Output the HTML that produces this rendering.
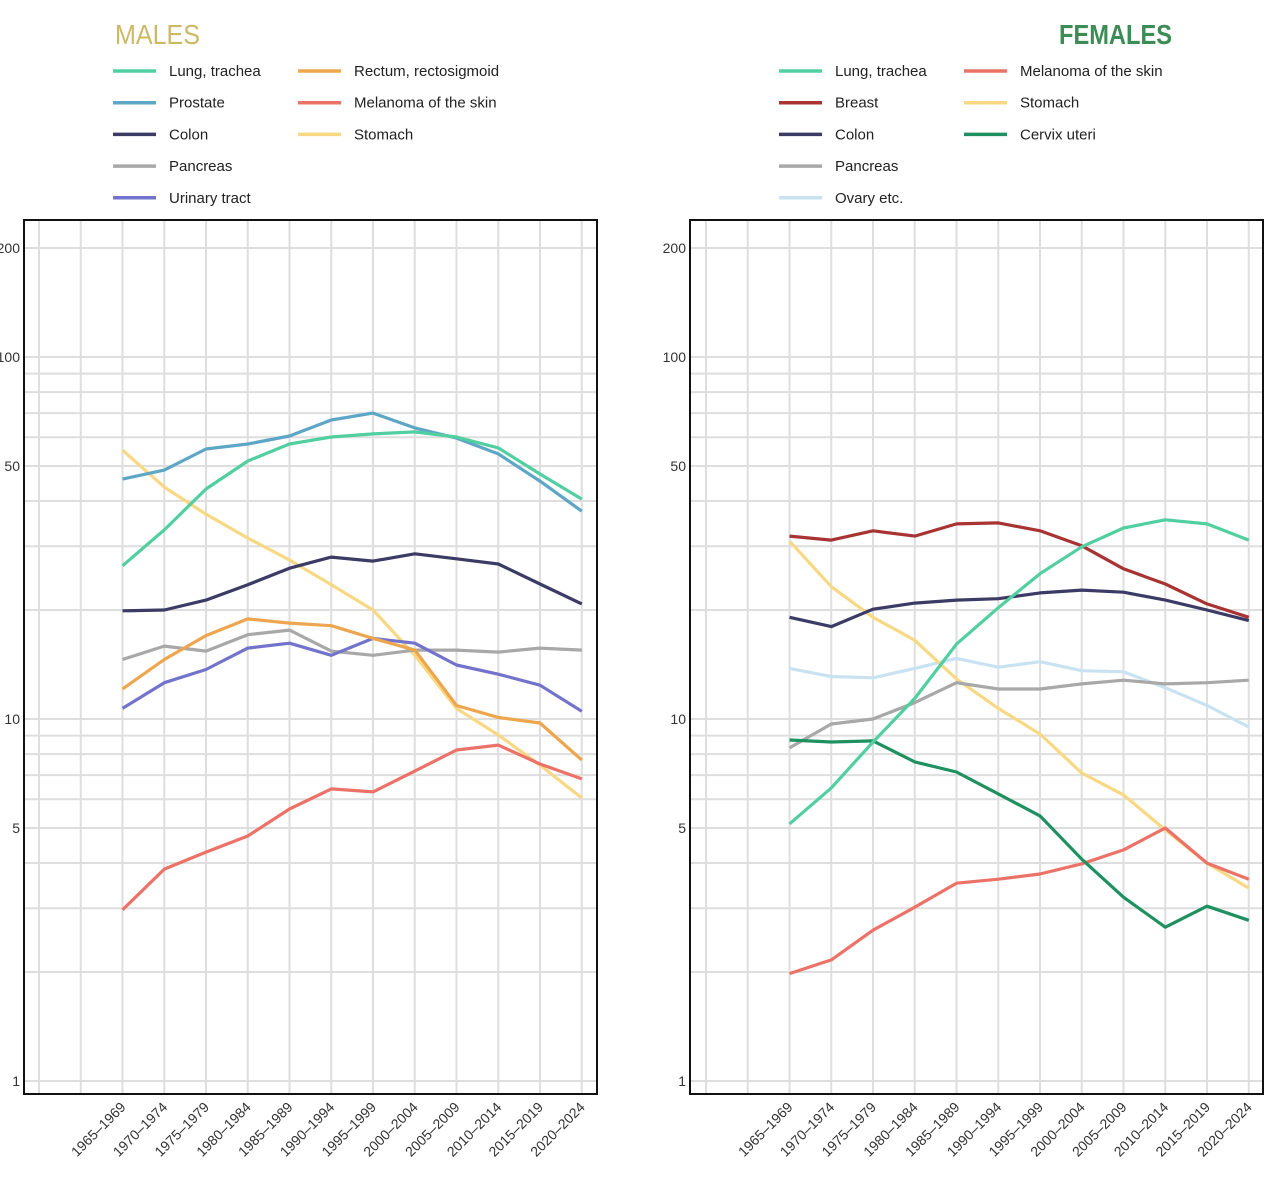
<!DOCTYPE html>
<html><head><meta charset="utf-8">
<style>
html,body{margin:0;padding:0;background:#fff;}
svg{display:block;font-family:"Liberation Sans Narrow","Liberation Sans",sans-serif;}
</style></head>
<body>
<svg id="chart" width="1285" height="1183" viewBox="0 0 1285 1183" xmlns="http://www.w3.org/2000/svg"></svg>
<script>
const categories = ["1965–1969","1970–1974","1975–1979","1980–1984","1985–1989","1990–1994","1995–1999","2000–2004","2005–2009","2010–2014","2015–2019","2020–2024"];
const yTicks = [1,5,10,50,100,200];

const mLung = [26.5,33.3,43.2,51.6,57.5,60.1,61.3,62.1,60.1,56.1,47.5,40.5];
const mProstate = [46.0,48.7,55.7,57.5,60.5,67.0,70.0,63.7,59.7,54.0,45.4,37.5];
const mColon = [19.9,20.0,21.3,23.5,26.1,28.0,27.3,28.6,27.7,26.8,23.6,20.8];
const mPancreas = [14.6,15.9,15.4,17.1,17.6,15.4,15.0,15.5,15.5,15.3,15.7,15.5];
const mUrinary = [10.7,12.6,13.7,15.7,16.2,15.0,16.7,16.2,14.1,13.3,12.4,10.5];
const mRectum = [12.1,14.6,17.0,18.9,18.4,18.1,16.7,15.5,10.9,10.1,9.75,7.7];
const mMelanoma = [2.97,3.85,4.29,4.75,5.64,6.41,6.29,7.18,8.21,8.47,7.51,6.83];
const mStomach = [55.3,43.7,36.8,31.6,27.5,23.5,20.0,15.0,10.7,9.03,7.46,6.05];

const fLung = [5.13,6.45,8.64,11.4,16.1,20.3,25.2,29.9,33.7,35.5,34.6,31.2];
const fBreast = [32.0,31.2,33.1,32.0,34.6,34.8,33.1,30.1,26.0,23.6,20.8,19.1];
const fColon = [19.1,18.0,20.1,20.9,21.3,21.5,22.3,22.7,22.4,21.3,20.0,18.7];
const fPancreas = [8.32,9.69,10.0,11.1,12.6,12.1,12.1,12.5,12.8,12.5,12.6,12.8];
const fOvary = [13.8,13.1,13.0,13.8,14.7,13.9,14.4,13.6,13.5,12.2,10.9,9.5];
const fMelanoma = [1.98,2.16,2.61,3.02,3.52,3.61,3.73,3.98,4.35,5.0,4.0,3.61];
const fStomach = [31.0,23.2,19.1,16.5,12.9,10.7,9.09,7.09,6.17,4.94,4.0,3.41];
const fCervix = [8.75,8.64,8.7,7.61,7.14,6.21,5.40,4.10,3.22,2.66,3.04,2.78];

const C = {lung:"#52cfa0",prostate:"#5ea6c6",colon:"#3b3b66",pancreas:"#a8a8a8",urinary:"#7373cc",rectum:"#eea64e",melanoma:"#ec7268",stomach:"#f8d882",breast:"#a83333",ovary:"#c9e2f1",cervix:"#1f9160"};

const NS="http://www.w3.org/2000/svg";
const svg=document.getElementById('chart');
function mk(tag,attrs,parent){const e=document.createElementNS(NS,tag);for(const k in attrs)e.setAttribute(k,attrs[k]);(parent||svg).appendChild(e);return e;}

const Y0=1081, DEC=362;
function yScale(v){return Y0-DEC*Math.log10(v);}

function panel(opts){
  const g=mk('g',{});
  
  
  const x0=opts.x0, step=41.75;
  function xScale(i){return x0+step*(i+2);}
  const L=opts.left,R=opts.right,T=220,B=1094;
  const gl=[];
  for(let d=0;d<3;d++)for(let m=1;m<10;m++)gl.push(m*Math.pow(10,d));
  gl.push(200);
  gl.forEach(v=>{const y=yScale(v);if(y<T)return;
    const l=mk('line',{x1:L,x2:R,y1:y,y2:y,stroke:"#dedede","stroke-width":2},g);
    
    });
  for(let i=-2;i<categories.length;i++){
    const x=xScale(i);
    const l=mk('line',{x1:x,x2:x,y1:T,y2:B,stroke:"#dedede","stroke-width":2},g);
    
    
  }
  const fr=mk('rect',{x:L,y:T,width:R-L,height:B-T,fill:"none",stroke:"#111","stroke-width":2},g);
  
  
  yTicks.forEach(v=>{
    const t=mk('text',{x:L-4,y:yScale(v)+5,"text-anchor":"end","font-size":14,fill:"#333"},g);
    t.textContent=String(v);
    
    
  });
  categories.forEach((c,i)=>{
    const x=xScale(i)+4,y=1108;
    const t=mk('text',{x:x,y:y,"text-anchor":"end","font-size":14,fill:"#333",transform:`rotate(-45 ${x} ${y})`},g);
    t.textContent=c;
    
    
  });
  opts.series.forEach(s=>{
    const pts=s.data.map((v,i)=>xScale(i).toFixed(1)+","+yScale(v).toFixed(1)).join(" ");
    const p=mk('polyline',{points:pts,fill:"none",stroke:s.color,"stroke-width":3.2,"stroke-linejoin":"round"},g);
    
    
  });
  const tt=mk('text',{x:opts.titleX,y:44,"font-size":28,fill:opts.titleColor,"font-weight":opts.titleWeight,textLength:opts.titleW,lengthAdjust:"spacingAndGlyphs"},svg);
  tt.textContent=opts.title;
  
  
  opts.legend.forEach((col,ci)=>{
    col.forEach((s,ri)=>{
      const lx=opts.legX[ci], y=71+ri*31.7;
      const lg=mk('g',{},svg);
      
      
      mk('line',{x1:lx,x2:lx+43,y1:y,y2:y,stroke:s.color,"stroke-width":3.5},lg);
      const t=mk('text',{x:lx+56,y:y+5,"font-size":15,fill:"#222"},lg);
      t.textContent=s.label;
    });
  });
}

const mSeries=[
 {key:"stomach",data:mStomach,color:C.stomach,label:"Stomach"},
 {key:"pancreas",data:mPancreas,color:C.pancreas,label:"Pancreas"},
 {key:"urinary-tract",data:mUrinary,color:C.urinary,label:"Urinary tract"},
 {key:"rectum",data:mRectum,color:C.rectum,label:"Rectum, rectosigmoid"},
 {key:"melanoma",data:mMelanoma,color:C.melanoma,label:"Melanoma of the skin"},
 {key:"colon",data:mColon,color:C.colon,label:"Colon"},
 {key:"prostate",data:mProstate,color:C.prostate,label:"Prostate"},
 {key:"lung",data:mLung,color:C.lung,label:"Lung, trachea"}];
const ms=k=>mSeries.find(s=>s.key===k);
panel({name:"males",x0:39,left:24,right:597,series:mSeries,title:"MALES",titleX:115,titleW:85,titleColor:"#cbb966",titleWeight:"normal",
 legX:[113,298],legend:[[ms("lung"),ms("prostate"),ms("colon"),ms("pancreas"),ms("urinary-tract")],[ms("rectum"),ms("melanoma"),ms("stomach")]]});

const fSeries=[
 {key:"ovary",data:fOvary,color:C.ovary,label:"Ovary etc."},
 {key:"stomach",data:fStomach,color:C.stomach,label:"Stomach"},
 {key:"pancreas",data:fPancreas,color:C.pancreas,label:"Pancreas"},
 {key:"melanoma",data:fMelanoma,color:C.melanoma,label:"Melanoma of the skin"},
 {key:"cervix",data:fCervix,color:C.cervix,label:"Cervix uteri"},
 {key:"colon",data:fColon,color:C.colon,label:"Colon"},
 {key:"breast",data:fBreast,color:C.breast,label:"Breast"},
 {key:"lung",data:fLung,color:C.lung,label:"Lung, trachea"}];
const fs=k=>fSeries.find(s=>s.key===k);
panel({name:"females",x0:706,left:690,right:1263,series:fSeries,title:"FEMALES",titleX:1059,titleW:113,titleColor:"#3d8b55",titleWeight:"bold",
 legX:[779,964],legend:[[fs("lung"),fs("breast"),fs("colon"),fs("pancreas"),fs("ovary")],[fs("melanoma"),fs("stomach"),fs("cervix")]]});
</script>
</body></html>
